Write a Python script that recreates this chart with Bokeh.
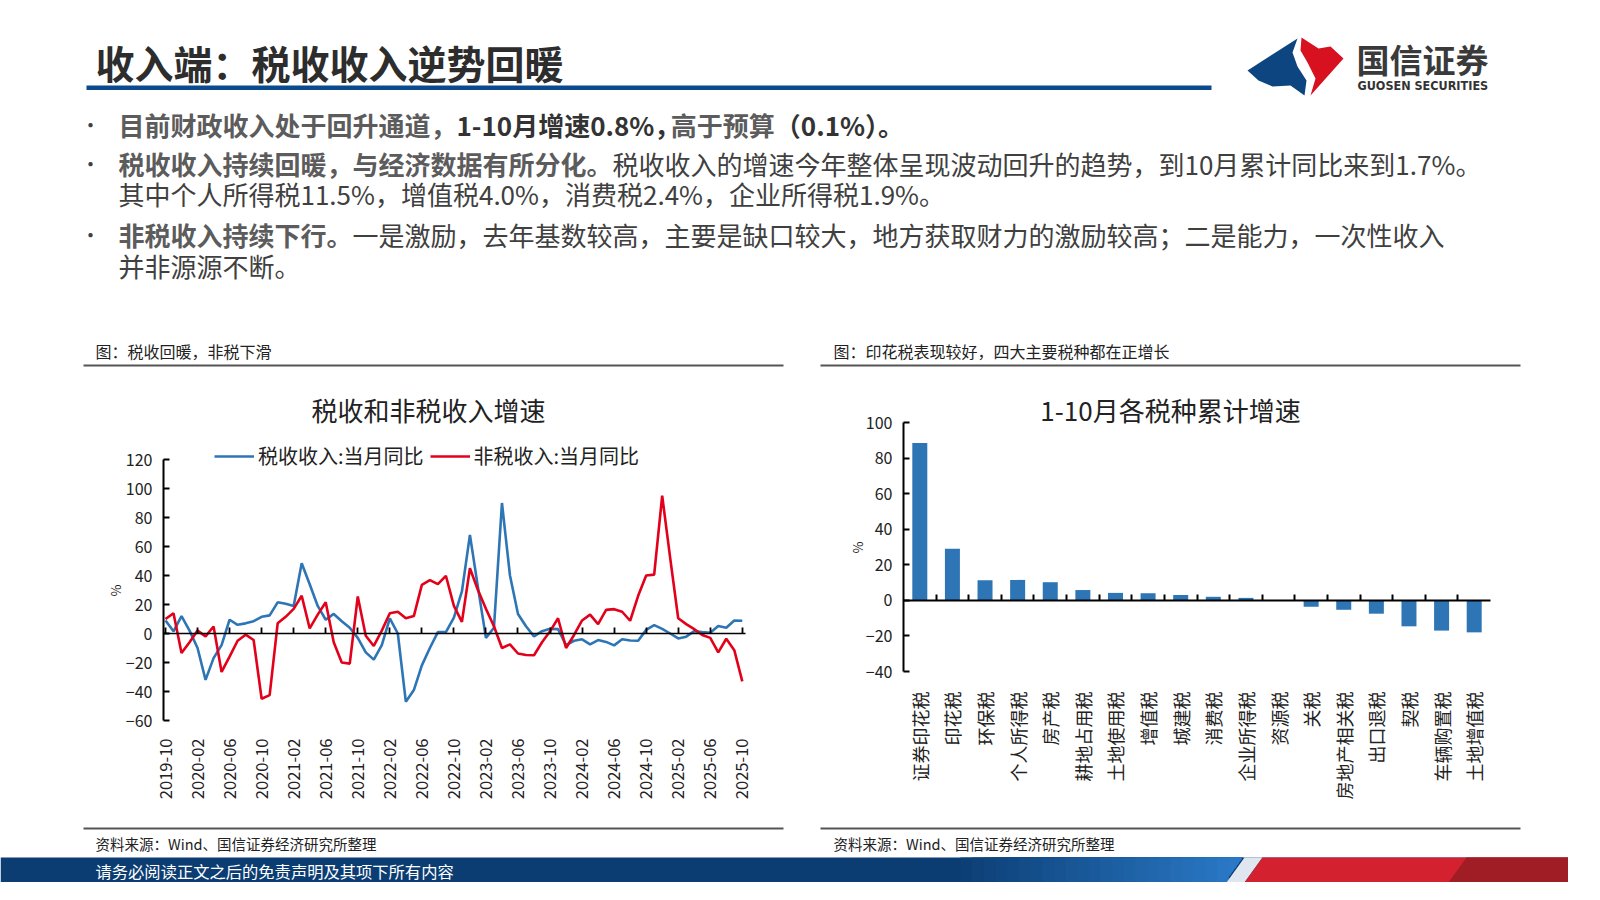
import pandas as pd
from math import pi
from bokeh.plotting import figure
from bokeh.models import (Range1d, FixedTicker, LinearAxis, Legend, LegendItem, Label,
                          ColumnDataSource)
from bokeh.layouts import column, row
from bokeh.embed import file_html
from bokeh.resources import INLINE
from bokeh.core.properties import value

FONT = "Noto Sans CJK SC"
W = 1568

# ---------------- data ----------------
months = [p.strftime("%Y-%m") for p in pd.period_range("2019-10", "2025-10", freq="M")]

tax_yoy = [9, 1.5, 12, 2, -10, -32, -17, -8, 9.5, 6, 7, 8.5, 11.5, 12.5, 21.5, 20.5, 19,
           48.5, 34, 19, 9.5, 13.5, 8.5, 4, -3, -13, -18, -8, 10.5, 0, -47, -39, -22, -10,
           1, 1, 11, 29, 68, 32, -3, 4, 90, 40, 13.5, 5, -2, 1.6, 3.2, 3, -8, -5, -4, -7.5,
           -4.5, -5.8, -8.2, -4, -4.8, -5, 2.5, 5.8, 3.2, 0, -3.4, -2.2, 1.6, 1, 0.5, 5.2,
           4, 9, 8.8]

nontax_yoy = [10, 14, -13.5, -6, 2, -2, 4.8, -26.5, -16, -5, -0.8, -4.5, -45, -42.5, 7,
              11.5, 17, 26, 3.5, 13, 21.5, -6, -20, -20.8, 25.5, -1.5, -8.6, 2, 14, 15,
              10.5, 12, 33.5, 36.8, 34, 39.8, 19, 8, 45, 30, 17, 5, -10, -7.5, -13.8,
              -14.8, -15, -6, 1.5, 10.5, -10, -1, 9, 13, 6.5, 16.3, 16.8, 15, 8.8, 26, 40,
              40.6, 95, 52, 10.5, 6.5, 3, -1, -3, -13, -3.6, -11.5, -33]

tax_types = ["证券印花税", "印花税", "环保税", "个人所得税", "房产税", "耕地占用税",
             "土地使用税", "增值税", "城建税", "消费税", "企业所得税", "资源税", "关税",
             "房地产相关税", "出口退税", "契税", "车辆购置税", "土地增值税"]
tax_growth = [88.5, 29.0, 11.3, 11.5, 10.2, 5.8, 4.2, 4.0, 3.0, 2.0, 1.4, 0.1, -3.6,
              -5.3, -7.5, -14.6, -17.0, -18.0]

left_yticks = [-60, -40, -20, 0, 20, 40, 60, 80, 100, 120]
right_yticks = [-40, -20, 0, 20, 40, 60, 80, 100]

page_title = "收入端：税收收入逆势回暖"
bullet_lines = [
    [("目前财政收入处于回升通道，", "em"), ("1-10月增速0.8%，", "strong"),
     ("高于预算", "em"), ("（0.1%）。", "strong")],
    [("税收收入持续回暖，与经济数据有所分化。", "em"),
     ("税收收入的增速今年整体呈现波动回升的趋势，到10月累计同比来到1.7%。", "normal")],
    [("其中个人所得税11.5%，增值税4.0%，消费税2.4%，企业所得税1.9%。", "normal")],
    [("非税收入持续下行。", "em"),
     ("一是激励，去年基数较高，主要是缺口较大，地方获取财力的激励较高；二是能力，一次性收入", "normal")],
    [("并非源源不断。", "normal")],
]
bullet_marks = [True, True, False, True, False]
caption_left = "图：税收回暖，非税下滑"
caption_right = "图：印花税表现较好，四大主要税种都在正增长"
source_text = "资料来源：Wind、国信证券经济研究所整理"
disclaimer = "请务必阅读正文之后的免责声明及其项下所有内容"
left_title = "税收和非税收入增速"
right_title = "1-10月各税种累计增速"
series_names = ["税收收入:当月同比", "非税收入:当月同比"]

BLUE = "#2e75b6"
RED = "#e2001a"
TXT = "#222222"


def canvas(w, top, bottom):
    f = figure(width=w, height=bottom - top, x_range=Range1d(0, w),
               y_range=Range1d(bottom, top), output_backend="svg",
               toolbar_location=None, min_border=0, x_axis_type=None,
               y_axis_type=None, outline_line_color=None)
    f.grid.visible = False
    f.background_fill_color = "white"
    f.border_fill_color = "white"
    return f


def em_width(s):
    w = 0.0
    for ch in s:
        if ord(ch) > 0x2E80:
            w += 1.0
        elif ch.isdigit():
            w += 0.555
        elif ch == ".":
            w += 0.27
        elif ch == "%":
            w += 0.86
        elif ch == "-":
            w += 0.34
        else:
            w += 0.5
    return w


def hex_mix(c1, c2, t):
    a = [int(c1[i:i + 2], 16) for i in (1, 3, 5)]
    b = [int(c2[i:i + 2], 16) for i in (1, 3, 5)]
    return "#" + "".join(f"{round(x + (y - x) * t):02x}" for x, y in zip(a, b))


def chart_fig(xr, yr):
    f = figure(width=784, height=438, x_range=Range1d(*xr), y_range=Range1d(*yr),
               output_backend="svg", toolbar_location=None, min_border=0,
               x_axis_type=None, y_axis_type=None, outline_line_color=None)
    f.grid.visible = False
    f.background_fill_color = "white"
    f.border_fill_color = "white"
    return f


def style_labels(ax, size):
    ax.major_label_text_font = FONT
    ax.major_label_text_font_size = size
    ax.major_label_text_color = TXT


# ---------------- header ----------------
hdr = canvas(W, 0, 380)
hdr.text(x=[95], y=[61], text=[page_title], text_font=value(FONT), text_font_size="39px",
         text_font_style="bold", text_color="#2d2d2d", text_baseline="middle")
hdr.quad(left=[86], right=[1211], top=[85], bottom=[89.5], fill_color="#0b4a8c",
         line_color=None)
hdr.patch(x=[1247, 1297, 1292, 1297, 1306, 1304, 1290, 1272, 1258],
          y=[70, 38, 52, 66, 80, 95, 85, 86, 80], fill_color="#0d4580", line_color=None)
hdr.patch(x=[1301, 1318, 1330, 1343, 1310, 1315, 1307, 1300],
          y=[37, 48, 46, 58, 95, 78, 62, 50], fill_color="#d7111f", line_color=None)
hdr.text(x=[1356], y=[58], text=["国信证券"], text_font=value(FONT), text_font_size="33px",
         text_font_style="bold", text_color="#3a3a3a", text_baseline="middle")
hdr.text(x=[1357], y=[85], text=["GUOSEN SECURITIES"], text_font=value("DejaVu Sans Condensed"),
         text_font_size="12.5px", text_font_style="bold", text_color="#333333",
         text_baseline="middle")

FS = 26
line_y = [124, 163, 193, 234, 265]
styles = {"em": ("bold", "#5c5c5c"), "strong": ("bold", "#333333"),
          "normal": ("normal", "#404040")}
for segs, yy, mark in zip(bullet_lines, line_y, bullet_marks):
    if mark:
        hdr.text(x=[80], y=[yy], text=["•"], text_font=value(FONT), text_font_size="20px",
                 text_color="#404040", text_baseline="middle")
    xx = 118
    for txt, st in segs:
        fw, col = styles[st]
        hdr.text(x=[xx], y=[yy], text=[txt], text_font=value(FONT),
                 text_font_size=f"{FS}px", text_font_style=fw, text_color=col,
                 text_baseline="middle")
        xx += em_width(txt) * FS

hdr.text(x=[95, 833], y=[350, 350], text=[caption_left, caption_right],
         text_font=value(FONT), text_font_size="16px", text_color=TXT,
         text_baseline="middle")
hdr.segment(x0=[83, 820], x1=[783, 1520], y0=[365, 365], y1=[365, 365],
            line_color="#555555", line_width=2)

# ---------------- left chart (figure spans page x 0-784, y 380-818) ----------------
xi = list(range(len(months)))
tick_idx = xi[::4]
PXM = 582 / 72.65          # px per month
PYL = 261 / 180            # px per percentage point
x0l, x1l = -0.25, 72.4     # plotting area in data units
pl = chart_fig((x0l - 163 / PXM, x1l + 39 / PXM),
               (-60 - 98 / PYL, 120 + 79 / PYL))
src = ColumnDataSource(dict(x=xi, tax=tax_yoy, nontax=nontax_yoy))
r1 = pl.line("x", "tax", source=src, line_color=BLUE, line_width=2.6)
r2 = pl.line("x", "nontax", source=src, line_color=RED, line_width=2.6)

ya = LinearAxis(fixed_location=x0l, bounds=(left_yticks[0], left_yticks[-1]),
                ticker=FixedTicker(ticks=left_yticks), major_tick_in=6, major_tick_out=0,
                minor_tick_line_color=None, axis_line_width=2, major_tick_line_width=2,
                major_label_standoff=11)
style_labels(ya, "16px")
pl.add_layout(ya, "left")

xa = LinearAxis(fixed_location=left_yticks[0], ticker=FixedTicker(ticks=tick_idx),
                major_label_overrides={i: months[i] for i in tick_idx},
                axis_line_color=None, major_tick_line_color=None,
                minor_tick_line_color=None, major_label_orientation=pi / 2,
                major_label_standoff=12)
style_labels(xa, "16.5px")
pl.add_layout(xa, "below")

za = LinearAxis(fixed_location=0, bounds=(x0l, x1l), ticker=FixedTicker(ticks=tick_idx),
                major_label_overrides={i: "" for i in tick_idx},
                major_label_text_color=None, major_tick_in=0, major_tick_out=6,
                minor_tick_line_color=None, axis_line_width=1.5,
                major_tick_line_width=1.8)
pl.add_layout(za, "above")

leg = Legend(items=[LegendItem(label=series_names[0], renderers=[r1]),
                    LegendItem(label=series_names[1], renderers=[r2])],
             orientation="horizontal", location=(214, 348), glyph_width=40,
             glyph_height=20, label_standoff=4, spacing=6, padding=0, margin=0,
             border_line_color=None, background_fill_alpha=0,
             label_text_font=FONT, label_text_font_size="20px",
             label_text_color=TXT)
pl.add_layout(leg)
pl.add_layout(Label(x=428, y=409, x_units="screen", y_units="screen", text=left_title,
                    text_align="center", text_baseline="middle", text_font=FONT,
                    text_font_size="26px", text_color=TXT))
pl.add_layout(Label(x=115, y=228, x_units="screen", y_units="screen", text="%",
                    angle=pi / 2, text_align="center", text_baseline="middle",
                    text_font=FONT, text_font_size="13px", text_color=TXT))

# ---------------- right chart (figure spans page x 784-1568, y 380-818) ----------------
bi = list(range(len(tax_types)))
PXB = 587 / 18
PYR = 249 / 140
x0r, x1r = -0.5, len(tax_types) - 0.5
pr = chart_fig((x0r - 119 / PXB, x1r + 78 / PXB),
               (-40 - 147 / PYR, 100 + 42 / PYR))
pr.vbar(x=bi, top=tax_growth, width=0.46, fill_color=BLUE, line_color=None)

by = LinearAxis(fixed_location=x0r, bounds=(right_yticks[0], right_yticks[-1]),
                ticker=FixedTicker(ticks=right_yticks), major_tick_in=6, major_tick_out=0,
                minor_tick_line_color=None, axis_line_width=2, major_tick_line_width=2,
                major_label_standoff=11)
style_labels(by, "16px")
pr.add_layout(by, "left")

bx = LinearAxis(fixed_location=right_yticks[0], ticker=FixedTicker(ticks=bi),
                major_label_overrides={i: t for i, t in zip(bi, tax_types)},
                axis_line_color=None, major_tick_line_color=None,
                minor_tick_line_color=None, major_label_orientation=pi / 2,
                major_label_standoff=14)
style_labels(bx, "18px")
pr.add_layout(bx, "below")

bnd = [i + 0.5 for i in bi[:-1]]
zb = LinearAxis(fixed_location=0, bounds=(x0r, x1r), ticker=FixedTicker(ticks=bnd),
                major_label_overrides={b: "" for b in bnd},
                major_label_text_color=None, major_tick_in=0, major_tick_out=6,
                minor_tick_line_color=None, axis_line_width=2,
                major_tick_line_width=2)
pr.add_layout(zb, "above")
pr.add_layout(Label(x=386, y=409, x_units="screen", y_units="screen", text=right_title,
                    text_align="center", text_baseline="middle", text_font=FONT,
                    text_font_size="26px", text_color=TXT))
pr.add_layout(Label(x=73, y=271, x_units="screen", y_units="screen", text="%",
                    angle=pi / 2, text_align="center", text_baseline="middle",
                    text_font=FONT, text_font_size="13px", text_color=TXT))

# ---------------- footer ----------------
ftr = canvas(W, 818, 882)
ftr.segment(x0=[83, 820], x1=[783, 1520], y0=[828, 828], y1=[828, 828],
            line_color="#555555", line_width=2)
ftr.text(x=[95, 833], y=[843, 843], text=[source_text, source_text], text_font=value(FONT),
         text_font_size="14.5px", text_color=TXT, text_baseline="middle")
ftr.quad(left=[0], right=[W], top=[857], bottom=[882], fill_color="#0b3d72", line_color=None)
NST = 24
for k in range(NST):
    gx = 960 + k * (280 / NST)
    ftr.patch(x=[gx, 1242, 1224, gx], y=[857, 857, 882, 882],
              fill_color=hex_mix("#0b3d72", "#2a78c6", (k + 1) / NST), line_color=None)
ftr.patch(x=[1244, 1262, 1244, 1226], y=[857, 857, 882, 882], fill_color="#dfe6ef",
          line_color=None)
ftr.patch(x=[1262, W, W, 1244], y=[857, 857, 882, 882], fill_color="#d3212f",
          line_color=None)
ftr.patch(x=[1466, W, W, 1448], y=[857, 857, 882, 882], fill_color="#a01d26",
          line_color=None)
ftr.text(x=[95], y=[870], text=[disclaimer], text_font=value(FONT), text_font_size="16.3px",
         text_color="white", text_baseline="middle")

layout = column(hdr, row(pl, pr), ftr)
open("out.html", "w").write(file_html(layout, INLINE))
